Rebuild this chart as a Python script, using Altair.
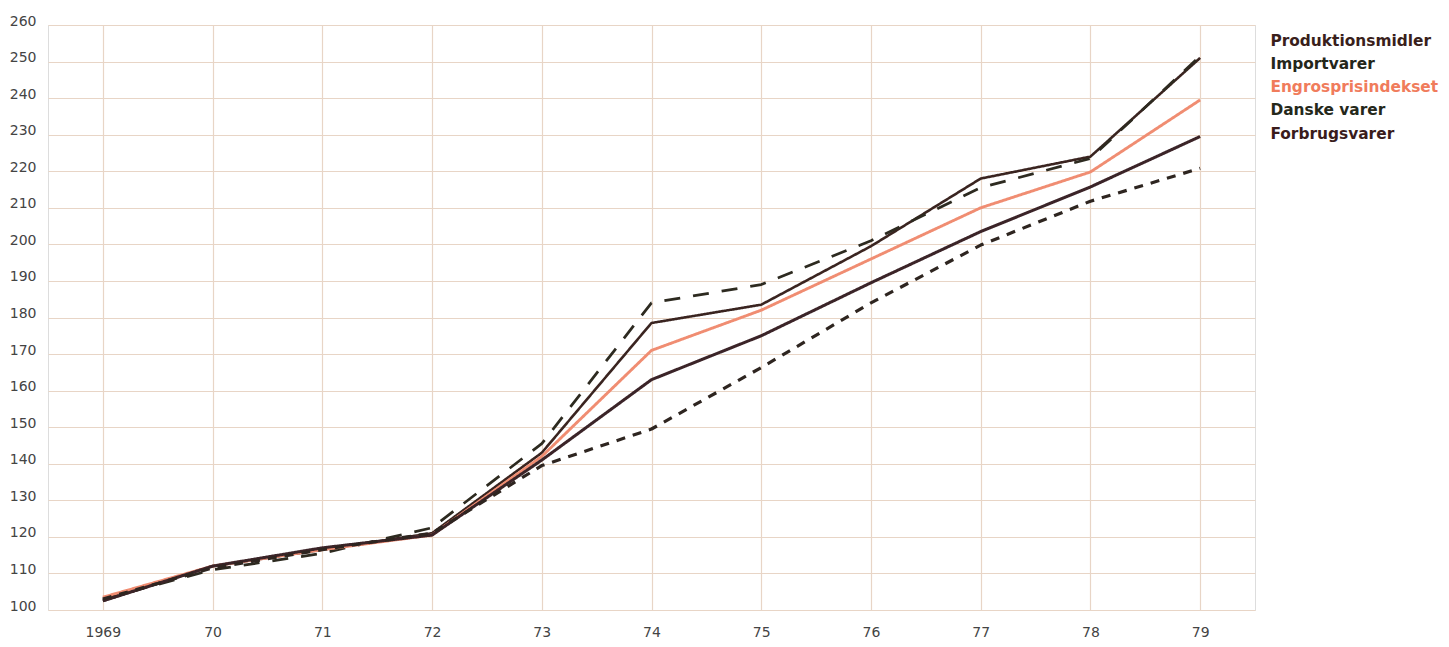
import json
import altair as alt
import pandas as pd

years = [1969, 1970, 1971, 1972, 1973, 1974, 1975, 1976, 1977, 1978, 1979]
tick_labels = ["1969", "70", "71", "72", "73", "74", "75", "76", "77", "78", "79"]

series_names = ["Produktionsmidler", "Importvarer", "Engrosprisindekset", "Danske varer", "Forbrugsvarer"]

produktionsmidler = [102.5, 112.0, 116.5, 121.0, 143.0, 178.5, 183.5, 199.5, 218.0, 224.0, 251.0]
importvarer = [103.0, 111.0, 115.5, 122.5, 145.5, 184.0, 189.0, 201.0, 215.5, 223.5, 251.5]
engros = [103.5, 112.0, 116.5, 120.5, 142.0, 171.0, 182.0, 196.0, 210.0, 219.8, 239.5]
danske = [102.5, 112.0, 117.0, 120.5, 141.0, 163.0, 175.0, 189.5, 203.5, 215.7, 229.5]
forbrugsvarer = [103.0, 111.5, 116.5, 121.0, 139.5, 149.5, 166.3, 184.0, 199.8, 211.8, 220.8]

line_colors = ["#3a2420", "#2d2a20", "#f08d72", "#3b2428", "#2e2520"]
line_dashes = [[1, 0], [16, 13], [1, 0], [1, 0], [9, 8]]
line_widths = [2.6, 3.2, 2.6, 2.6, 3.0]
label_colors = ["#3a1f1c", "#24261a", "#f07c5c", "#25281a", "#3a1c1c"]

values = [produktionsmidler, importvarer, engros, danske, forbrugsvarer]
rows = []
for name, vals in zip(series_names, values):
    for yr, v in zip(years, vals):
        rows.append({"year": yr, "value": v, "series": name})
df = pd.DataFrame(rows)

color_expr = " : ".join(
    f"datum.label == '{n}' ? '{c}'" for n, c in zip(series_names, label_colors)
) + " : '#333333'"

chart = (
    alt.Chart(df)
    .mark_line(strokeCap="butt", strokeJoin="round")
    .encode(
        x=alt.X(
            "year:Q",
            scale=alt.Scale(domain=[1968.5, 1979.5], nice=False, zero=False),
            axis=alt.Axis(
                values=years,
                labelExpr=f"{json.dumps(tick_labels)}[datum.value - 1969]",
                title=None,
                ticks=False,
                domain=False,
                labelPadding=15,
                labelFont="DejaVu Sans",
                labelFontSize=14,
                labelColor="#444444",
                gridColor="#e8d5c6",
                gridWidth=1.2,
            ),
        ),
        y=alt.Y(
            "value:Q",
            scale=alt.Scale(domain=[100, 260], nice=False, zero=False),
            axis=alt.Axis(
                values=list(range(100, 261, 10)),
                title=None,
                ticks=False,
                domain=False,
                labelPadding=12,
                labelOffset=-4,
                labelFont="DejaVu Sans",
                labelFontSize=14,
                labelColor="#444444",
                gridColor="#e8d5c6",
                gridWidth=1.2,
            ),
        ),
        color=alt.Color(
            "series:N",
            scale=alt.Scale(domain=series_names, range=line_colors),
            legend=alt.Legend(
                title=None,
                orient="none",
                legendX=1207,
                legendY=8,
                symbolSize=0,
                symbolOpacity=0,
                symbolStrokeWidth=0,
                labelOffset=0,
                padding=0,
                rowPadding=6.2,
                labelFont="DejaVu Sans",
                labelFontSize=15.4,
                labelFontWeight="bold",
                labelColor={"expr": color_expr},
                labelLimit=300,
            ),
        ),
        strokeDash=alt.StrokeDash(
            "series:N", scale=alt.Scale(domain=series_names, range=line_dashes), legend=None
        ),
        strokeWidth=alt.StrokeWidth(
            "series:N", scale=alt.Scale(domain=series_names, range=line_widths), legend=None
        ),
        order=alt.Order("year:Q"),
    )
    .properties(
        width=1207,
        height=585,
        autosize=alt.AutoSizeParams(type="none"),
        padding={"left": 40, "top": 17, "right": 185, "bottom": 29},
    )
    .configure_view(stroke="#f3a086", strokeWidth=2)
    .configure(background="white")
)

chart.save("out.html", embed_options={"renderer": "svg", "actions": False})
